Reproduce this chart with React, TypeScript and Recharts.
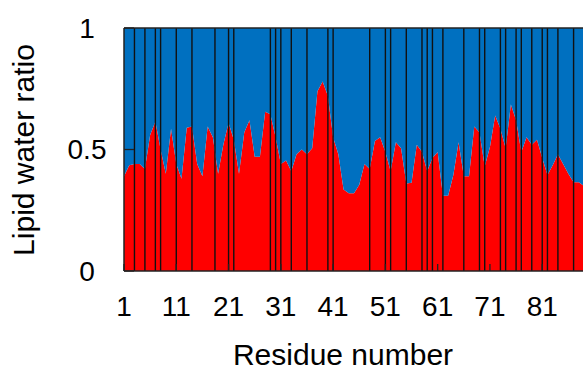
import { Area, AreaChart, Label, ReferenceLine, XAxis, YAxis } from "recharts";

// residue index along the sequence
const residues = [
  1, 2, 3, 4, 5, 6, 7, 8, 9, 10, 11, 12, 13, 14, 15, 16, 17, 18, 19, 20,
  21, 22, 23, 24, 25, 26, 27, 28, 29, 30, 31, 32, 33, 34, 35, 36, 37, 38, 39, 40,
  41, 42, 43, 44, 45, 46, 47, 48, 49, 50, 51, 52, 53, 54, 55, 56, 57, 58, 59, 60,
  61, 62, 63, 64, 65, 66, 67, 68, 69, 70, 71, 72, 73, 74, 75, 76, 77, 78, 79, 80,
  81, 82, 83, 84, 85, 86, 87, 88, 89,
];

// lipid share of the contact ratio (the rest is water)
const lipid = [
  0.39, 0.435, 0.44, 0.44, 0.42, 0.56, 0.615, 0.5, 0.4, 0.585,
  0.44, 0.38, 0.59, 0.595, 0.44, 0.39, 0.595, 0.55, 0.4, 0.52,
  0.61, 0.54, 0.4, 0.57, 0.62, 0.47, 0.47, 0.655, 0.645, 0.55,
  0.44, 0.455, 0.41, 0.48, 0.5, 0.48, 0.505, 0.74, 0.78, 0.72,
  0.55, 0.48, 0.335, 0.32, 0.32, 0.355, 0.44, 0.42, 0.535, 0.55,
  0.49, 0.41, 0.53, 0.505, 0.36, 0.363, 0.52, 0.49, 0.41, 0.465,
  0.49, 0.31, 0.31, 0.395, 0.53, 0.39, 0.39, 0.595, 0.57, 0.43,
  0.51, 0.64, 0.585, 0.505, 0.685, 0.62, 0.49, 0.55, 0.52, 0.54,
  0.465, 0.395, 0.435, 0.48, 0.44, 0.4, 0.365, 0.365, 0.35,
];

// segment boundaries drawn as vertical lines
const boundaries = [
  3, 5, 7, 8, 11, 14, 18.4, 21, 22, 29, 30, 31, 33, 36, 40, 41, 48, 51, 52, 55,
  58, 59, 60, 62, 66, 69, 70, 73, 74, 76, 77, 79, 81, 82, 84, 87,
];

const xTicks = [1, 11, 21, 31, 41, 51, 61, 71, 81];
const yTicks = [0, 0.5, 1];

const data = residues.map((r, i) => ({ residue: r, lipid: lipid[i], water: 1 - lipid[i] }));

const font = "'Liberation Sans', Arial, sans-serif";
const tick = { fill: "#000", fontSize: 28, fontFamily: font };

export default function App() {
  return (
    <div style={{ position: "absolute", left: 0, top: 0, width: 583, height: 369, background: "#fff" }}>
      <AreaChart width={583} height={369} data={data} margin={{ top: 28, right: 0, bottom: 0, left: 0 }}>
        <XAxis
          type="number"
          dataKey="residue"
          domain={[1, 88.8]}
          allowDataOverflow
          ticks={xTicks}
          height={98}
          tick={tick}
          tickSize={-7}
          tickMargin={32}
          tickLine={{ stroke: "#222", strokeWidth: 1.3 }}
          axisLine={{ stroke: "#222", strokeWidth: 1.5 }}
        >
          <Label
            content={() => (
              <text x={343} y={354} textAnchor="middle" dominantBaseline="central" fontSize={30} fontFamily={font} fill="#000">
                Residue number
              </text>
            )}
          />
        </XAxis>
        <YAxis
          type="number"
          domain={[0, 1]}
          ticks={yTicks}
          width={124}
          tick={{ ...tick, textAnchor: "middle" }}
          tickSize={-10}
          tickMargin={47}
          tickLine={{ stroke: "#222", strokeWidth: 1.3 }}
          axisLine={{ stroke: "#222", strokeWidth: 1.5 }}
        >
          <Label
            content={() => (
              <text
                x={23}
                y={150}
                transform="rotate(-90 23 150)"
                textAnchor="middle"
                dominantBaseline="central"
                fontSize={30}
                fontFamily={font}
                fill="#000"
              >
                Lipid water ratio
              </text>
            )}
          />
        </YAxis>
        <Area
          type="linear"
          dataKey="lipid"
          stackId="ratio"
          fill="#ff0000"
          fillOpacity={1}
          stroke="none"
          isAnimationActive={false}
        />
        <Area
          type="linear"
          dataKey="water"
          stackId="ratio"
          fill="#0070c0"
          fillOpacity={1}
          stroke="none"
          isAnimationActive={false}
        />
        {boundaries.map((b) => (
          <ReferenceLine key={b} x={b} stroke="#111" strokeWidth={1.4} />
        ))}
        <ReferenceLine y={1} stroke="#222" strokeWidth={1.5} />
      </AreaChart>
    </div>
  );
}
